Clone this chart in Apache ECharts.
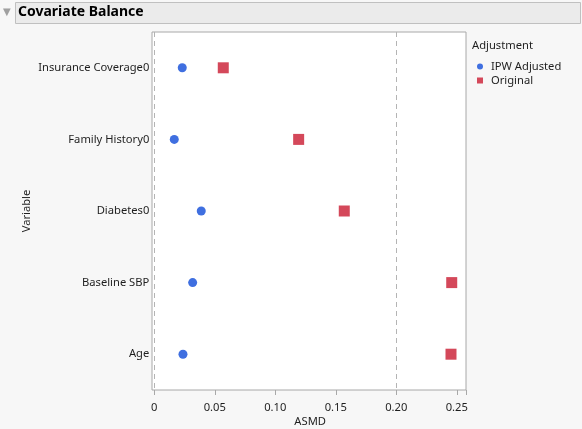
<!DOCTYPE html>
<html>
<head>
<meta charset="utf-8">
<script src="https://cdn.jsdelivr.net/npm/echarts@6/dist/echarts.min.js"></script>
<style>
html,body{margin:0;padding:0;background:#f7f7f7;}
#c{width:582px;height:429px;}
</style>
</head>
<body>
<div id="c"></div>
<script>
var categories = ['Insurance Coverage0', 'Family History0', 'Diabetes0', 'Baseline SBP', 'Age'];
var ipwAdjusted = [0.0231, 0.0165, 0.0388, 0.0317, 0.0237];
var original = [0.0570, 0.1193, 0.1570, 0.2458, 0.2452];
var xTickLabels = ['0', '0.05', '0.10', '0.15', '0.20', '0.25'];
var referenceLines = [0, 0.2];

var FONT = 'Noto Sans';
var FS = 11.2;
var TXT = '#1e1e1e';

function pairs(vals) {
  return vals.map(function (v, i) { return [v, categories[i]]; });
}

var chart = echarts.init(document.getElementById('c'), null, { renderer: 'canvas' });
chart.setOption({
  backgroundColor: '#f7f7f7',
  animation: false,
  textStyle: { fontFamily: FONT },
  graphic: [
    { type: 'rect', shape: { x: 15.5, y: 2.5, width: 565, height: 21 },
      style: { fill: '#ebebeb', stroke: '#c0c0c0', lineWidth: 1 }, z: 0 },
    { type: 'text', left: 3, top: 7,
      style: { text: '▼', fill: '#a0a0a0', font: '10px "DejaVu Sans"' } },
    { type: 'text', left: 18, top: 5,
      style: { text: 'Covariate Balance', fill: '#000', font: 'bold 14px "Noto Sans"' } },
    { type: 'text', left: 472, top: 40,
      style: { text: 'Adjustment', fill: TXT, font: FS + 'px "Noto Sans"' } }
  ],
  legend: {
    orient: 'vertical', left: 472, top: 56, itemGap: 3,
    itemWidth: 6, itemHeight: 6,
    textStyle: { fontFamily: FONT, fontSize: FS, color: TXT, padding: [0, 0, 0, 3] },
    data: [
      { name: 'IPW Adjusted', icon: 'circle', itemStyle: { color: '#3f6fe0' } },
      { name: 'Original', icon: 'rect', itemStyle: { color: '#d4485a' } }
    ]
  },
  grid: [
    { left: 152, top: 32, width: 314, height: 358, show: true, outerBoundsMode: 'none', containLabel: false,
      backgroundColor: '#ffffff', borderColor: '#a8a8a8', borderWidth: 1 },
    { left: 154.3, top: 32, width: 311.7, height: 358, show: false, outerBoundsMode: 'none', containLabel: false }
  ],
  xAxis: [
    { type: 'value', gridIndex: 1, min: 0, max: 0.2576, interval: 0.05,
      name: 'ASMD', nameLocation: 'middle', nameGap: 26, nameMoveOverlap: false,
      nameTextStyle: { fontFamily: FONT, fontSize: FS, color: TXT },
      axisLine: { show: false },
      axisTick: { show: true, length: 5, lineStyle: { color: '#a8a8a8' } },
      splitLine: { show: false },
      axisLabel: { margin: 12, fontFamily: FONT, fontSize: FS, color: TXT,
        formatter: function (v, i) { return xTickLabels[i]; } } },
    { type: 'value', gridIndex: 0, show: false, min: 0, max: 1 }
  ],
  yAxis: [
    { type: 'category', gridIndex: 1, data: categories, inverse: true,
      name: 'Variable', nameLocation: 'middle', nameGap: 122, nameRotate: 90, nameMoveOverlap: false,
      nameTextStyle: { fontFamily: FONT, fontSize: FS, color: TXT },
      axisLine: { show: false }, axisTick: { show: false }, splitLine: { show: false },
      axisLabel: { margin: 5, fontFamily: FONT, fontSize: FS, color: TXT } },
    { type: 'value', gridIndex: 0, show: false, min: 0, max: 1 }
  ],
  series: [
    { name: 'IPW Adjusted', type: 'scatter', xAxisIndex: 0, yAxisIndex: 0,
      symbol: 'circle', symbolSize: 9, itemStyle: { color: '#3f6fe0', opacity: 1 },
      data: pairs(ipwAdjusted),
      markLine: { silent: true, symbol: 'none', label: { show: false },
        lineStyle: { color: '#b4b4b4', type: [5, 4], width: 1 },
        data: referenceLines.map(function (v) { return { xAxis: v }; }) } },
    { name: 'Original', type: 'scatter', xAxisIndex: 0, yAxisIndex: 0,
      symbol: 'rect', symbolSize: 11, itemStyle: { color: '#d4485a', opacity: 1 },
      data: pairs(original) }
  ]
});
</script>
</body>
</html>
